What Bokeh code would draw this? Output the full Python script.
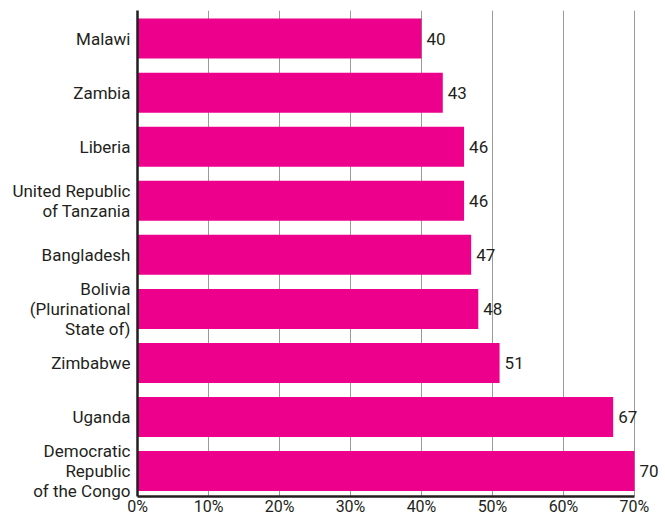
from bokeh.plotting import figure
from bokeh.models import Range1d, FixedTicker, ColumnDataSource, LabelSet
from bokeh.core.properties import value
from bokeh.embed import file_html
from bokeh.resources import INLINE

countries = ["Malawi", "Zambia", "Liberia", "United Republic\nof Tanzania", "Bangladesh",
             "Bolivia\n(Plurinational\nState of)", "Zimbabwe", "Uganda",
             "Democratic\nRepublic\nof the Congo"]
values = [40, 43, 46, 46, 47, 48, 51, 67, 70]
x_ticks = [0, 10, 20, 30, 40, 50, 60, 70]

FONT = "Roboto"
TXT = "#231f20"
MAG = "#ec008c"

pos = list(range(len(countries)))
src = ColumnDataSource(dict(y=pos, v=values, lab=[str(v) for v in values]))

p = figure(width=665, height=518, output_backend="svg", toolbar_location=None,
           x_range=Range1d(0, 74.37), y_range=Range1d(8.47, -0.52),
           min_border_left=137, min_border_top=10, min_border_right=0, min_border_bottom=0,
           x_axis_location="below", y_axis_location="left")
p.outline_line_color = None

p.hbar(y="y", left=0, right="v", height=0.74, source=src, fill_color=MAG, line_color=None)
labels = LabelSet(x="v", y="y", text="lab", source=src, x_offset=5, text_baseline="middle",
                  text_align="left", text_font=value(FONT), text_font_size="17px",
                  text_color=TXT)
p.add_layout(labels)

xa = p.xaxis[0]
xa.ticker = FixedTicker(ticks=x_ticks)
xa.major_label_overrides = {t: f"{t}%" for t in x_ticks}
xa.bounds = (0, 70)
xa.axis_line_color = TXT
xa.axis_line_width = 2.5
xa.major_tick_line_color = None
xa.minor_tick_line_color = None
xa.major_tick_in = 0
xa.major_tick_out = 0
xa.major_label_standoff = 0
xa.major_label_text_font = FONT
xa.major_label_text_font_size = "16px"
xa.major_label_text_color = TXT

ya = p.yaxis[0]
ya.ticker = FixedTicker(ticks=pos)
ya.major_label_overrides = {i: c for i, c in enumerate(countries)}
ya.axis_line_color = TXT
ya.axis_line_width = 2.5
ya.major_tick_line_color = None
ya.minor_tick_line_color = None
ya.major_tick_in = 0
ya.major_tick_out = 0
ya.major_label_standoff = 7
ya.major_label_text_font = FONT
ya.major_label_text_font_size = "17px"
ya.major_label_text_color = TXT
ya.major_label_text_align = "right"
ya.major_label_text_line_height = 1.0

p.ygrid.grid_line_color = None
p.xgrid.ticker = FixedTicker(ticks=x_ticks[1:])
p.xgrid.grid_line_color = "#9a9a9a"
p.xgrid.grid_line_width = 1

open("out.html", "w").write(file_html(p, INLINE))
